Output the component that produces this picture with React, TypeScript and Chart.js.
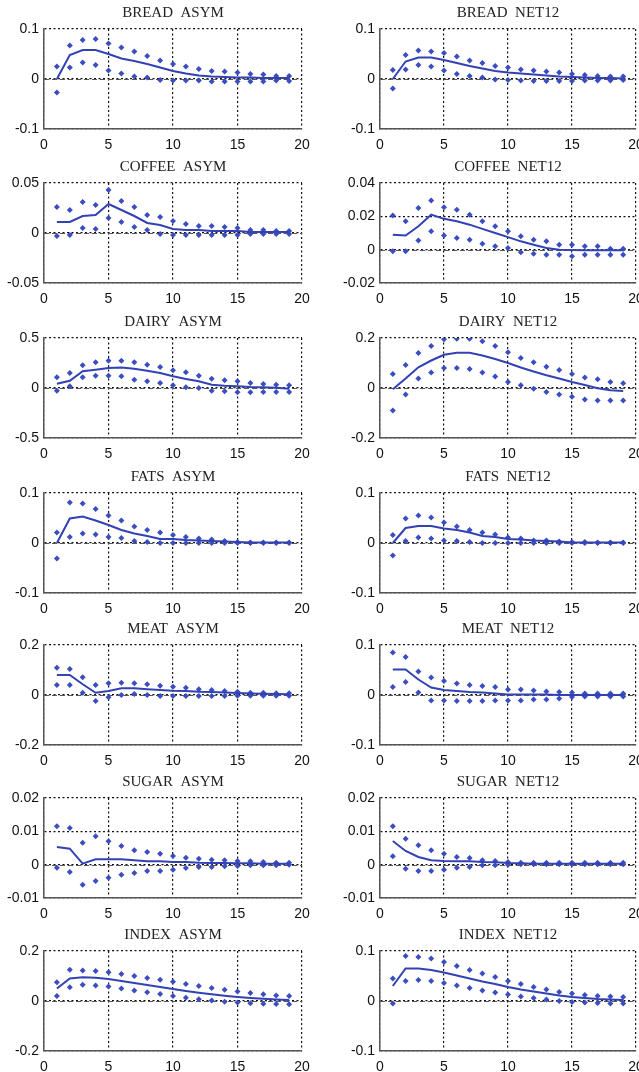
import React, { useEffect, useRef } from "react";
import { Chart, registerables } from "chart.js";

Chart.register(...registerables);

// ---------- DATA ----------
const periods = [1, 2, 3, 4, 5, 6, 7, 8, 9, 10, 11, 12, 13, 14, 15, 16, 17, 18, 19];
const xTickValues = [0, 5, 10, 15, 20];

const breadAsymUpper = [0.025, 0.067, 0.078, 0.08, 0.071, 0.063, 0.055, 0.046, 0.037, 0.03, 0.025, 0.02, 0.016, 0.015, 0.013, 0.01, 0.009, 0.006, 0.006];
const breadAsymMid = [0, 0.048, 0.058, 0.058, 0.05, 0.041, 0.036, 0.03, 0.023, 0.016, 0.011, 0.007, 0.005, 0.004, 0.003, 0.003, 0.002, 0.002, 0.002];
const breadAsymLower = [-0.027, 0.023, 0.033, 0.028, 0.017, 0.011, 0.005, 0.003, -0.002, -0.003, -0.003, -0.003, -0.005, -0.005, -0.005, -0.005, -0.005, -0.003, -0.004];
const breadAsymTicks = [-0.1, 0, 0.1];

const breadNetUpper = [0.018, 0.048, 0.057, 0.055, 0.052, 0.045, 0.037, 0.032, 0.026, 0.023, 0.019, 0.017, 0.015, 0.013, 0.01, 0.008, 0.006, 0.005, 0.005];
const breadNetMid = [0, 0.035, 0.043, 0.043, 0.038, 0.032, 0.026, 0.021, 0.016, 0.013, 0.011, 0.009, 0.007, 0.005, 0.004, 0.003, 0.002, 0.002, 0.001];
const breadNetLower = [-0.019, 0.019, 0.028, 0.025, 0.017, 0.01, 0.006, 0.003, -0.001, -0.002, -0.003, -0.004, -0.004, -0.004, -0.004, -0.003, -0.003, -0.003, -0.002];
const breadNetTicks = [-0.1, 0, 0.1];

const coffeeAsymUpper = [0.026, 0.023, 0.031, 0.028, 0.043, 0.032, 0.026, 0.018, 0.016, 0.012, 0.009, 0.007, 0.007, 0.006, 0.005, 0.003, 0.003, 0.002, 0.002];
const coffeeAsymMid = [0.011, 0.011, 0.017, 0.018, 0.029, 0.023, 0.017, 0.01, 0.008, 0.004, 0.003, 0.003, 0.002, 0.002, 0.002, 0.001, 0.001, 0.001, 0.001];
const coffeeAsymLower = [-0.003, -0.002, 0.005, 0.004, 0.015, 0.011, 0.006, 0.003, -0.001, -0.002, -0.002, -0.002, -0.002, -0.002, -0.002, -0.001, -0.001, -0.001, -0.001];
const coffeeAsymTicks = [-0.05, 0, 0.05];

const coffeeNetUpper = [0.0205, 0.017, 0.025, 0.0295, 0.0255, 0.024, 0.021, 0.017, 0.014, 0.011, 0.008, 0.006, 0.005, 0.003, 0.003, 0.002, 0.002, 0.0006, 0.0006];
const coffeeNetMid = [0.009, 0.0085, 0.014, 0.021, 0.0185, 0.017, 0.015, 0.0125, 0.01, 0.0075, 0.005, 0.003, 0.001, 0, -0.0002, -0.0003, -0.0003, -0.0003, -0.0003];
const coffeeNetLower = [-0.001, -0.001, 0.0055, 0.011, 0.0085, 0.007, 0.006, 0.0035, 0.002, 0.001, -0.0015, -0.0025, -0.003, -0.003, -0.004, -0.003, -0.003, -0.003, -0.003];
const coffeeNetTicks = [-0.02, 0, 0.02, 0.04];

const dairyAsymUpper = [0.107, 0.15, 0.227, 0.257, 0.273, 0.273, 0.257, 0.233, 0.21, 0.177, 0.157, 0.123, 0.093, 0.077, 0.067, 0.05, 0.04, 0.033, 0.027];
const dairyAsymMid = [0.043, 0.073, 0.167, 0.183, 0.2, 0.205, 0.193, 0.173, 0.15, 0.117, 0.09, 0.067, 0.033, 0.023, 0.017, 0.01, 0.007, 0.003, -0.007];
const dairyAsymLower = [-0.027, 0.017, 0.107, 0.123, 0.123, 0.117, 0.083, 0.067, 0.05, 0.027, 0.007, 0, -0.027, -0.033, -0.043, -0.043, -0.04, -0.04, -0.04];
const dairyAsymTicks = [-0.5, 0, 0.5];

const dairyNetUpper = [0.056, 0.092, 0.14, 0.168, 0.195, 0.197, 0.197, 0.187, 0.168, 0.143, 0.12, 0.103, 0.085, 0.072, 0.056, 0.042, 0.035, 0.024, 0.019];
const dairyNetMid = [-0.005, 0.038, 0.083, 0.11, 0.133, 0.141, 0.141, 0.13, 0.116, 0.1, 0.082, 0.066, 0.051, 0.038, 0.024, 0.012, -0.001, -0.009, -0.012];
const dairyNetLower = [-0.09, -0.026, 0.038, 0.062, 0.08, 0.08, 0.076, 0.062, 0.046, 0.024, 0.011, -0.003, -0.016, -0.026, -0.035, -0.046, -0.05, -0.05, -0.05];
const dairyNetTicks = [-0.2, 0, 0.2];

const fatsAsymUpper = [0.021, 0.081, 0.079, 0.068, 0.055, 0.045, 0.033, 0.026, 0.021, 0.016, 0.012, 0.009, 0.007, 0.004, 0.002, 0.001, 0.001, 0.001, 0.001];
const fatsAsymMid = [0, 0.049, 0.053, 0.045, 0.036, 0.026, 0.019, 0.014, 0.008, 0.008, 0.006, 0.005, 0.004, 0.003, 0.002, 0.001, 0.001, 0.001, 0.001];
const fatsAsymLower = [-0.031, 0.012, 0.019, 0.017, 0.012, 0.01, 0.004, 0.002, 0, 0, 0, 0, 0, 0, 0, 0, 0, 0, 0];
const fatsAsymTicks = [-0.1, 0, 0.1];

const fatsNetUpper = [0.016, 0.049, 0.055, 0.051, 0.041, 0.033, 0.026, 0.021, 0.017, 0.011, 0.009, 0.005, 0.005, 0.003, 0.002, 0.002, 0.001, 0.001, 0.001];
const fatsNetMid = [0, 0.03, 0.034, 0.034, 0.029, 0.026, 0.021, 0.014, 0.012, 0.008, 0.007, 0.005, 0.004, 0.003, 0.001, 0.001, 0.001, 0.001, 0.001];
const fatsNetLower = [-0.025, 0.004, 0.011, 0.009, 0.005, 0.004, 0.002, 0, 0, 0, 0, 0, 0, 0, 0, 0, 0, 0, 0];
const fatsNetTicks = [-0.1, 0, 0.1];

const meatAsymUpper = [0.109, 0.104, 0.071, 0.04, 0.047, 0.049, 0.047, 0.043, 0.037, 0.033, 0.029, 0.023, 0.02, 0.016, 0.013, 0.009, 0.009, 0.007, 0.007];
const meatAsymMid = [0.08, 0.08, 0.043, 0.009, 0.016, 0.027, 0.027, 0.023, 0.02, 0.017, 0.016, 0.013, 0.012, 0.01, 0.008, 0.006, 0.005, 0.004, 0.003];
const meatAsymLower = [0.04, 0.04, 0.009, -0.024, -0.009, 0, 0.004, 0, -0.004, -0.004, -0.004, -0.004, -0.004, -0.004, -0.003, -0.003, -0.003, -0.003, -0.003];
const meatAsymTicks = [-0.2, 0, 0.2];

const meatNetUpper = [0.085, 0.076, 0.047, 0.035, 0.028, 0.023, 0.02, 0.018, 0.016, 0.011, 0.011, 0.009, 0.007, 0.006, 0.005, 0.003, 0.003, 0.003, 0.003];
const meatNetMid = [0.051, 0.051, 0.031, 0.015, 0.01, 0.008, 0.006, 0.005, 0.003, 0.001, 0.001, 0.001, 0.001, 0, 0, 0, 0, 0, 0];
const meatNetLower = [0.016, 0.026, 0.005, -0.011, -0.011, -0.012, -0.012, -0.012, -0.011, -0.011, -0.011, -0.009, -0.009, -0.007, -0.004, -0.003, -0.003, -0.003, -0.003];
const meatNetTicks = [-0.1, 0, 0.1];

const sugarAsymUpper = [0.0115, 0.011, 0.0066, 0.0085, 0.007, 0.0056, 0.0043, 0.0038, 0.0033, 0.0026, 0.0021, 0.0018, 0.0015, 0.0013, 0.0011, 0.001, 0.0008, 0.0006, 0.0006];
const sugarAsymMid = [0.0053, 0.0048, 0.0003, 0.0016, 0.0016, 0.0016, 0.0013, 0.001, 0.001, 0.0008, 0.0008, 0.0006, 0.0005, 0.0005, 0.0004, 0.0004, 0.0003, 0.0003, 0.0003];
const sugarAsymLower = [-0.0009, -0.0022, -0.006, -0.0049, -0.0039, -0.003, -0.0025, -0.0019, -0.0019, -0.0015, -0.001, -0.0007, -0.0007, -0.0005, -0.0004, -0.0002, -0.0002, -0.0002, 0];
const sugarAsymTicks = [-0.01, 0, 0.01, 0.02];

const sugarNetUpper = [0.0115, 0.0078, 0.0058, 0.0043, 0.0033, 0.0023, 0.002, 0.0013, 0.0011, 0.0008, 0.0006, 0.0006, 0.0006, 0.0006, 0.0006, 0.0006, 0.0006, 0.0006, 0.0006];
const sugarNetMid = [0.0071, 0.0041, 0.0023, 0.0013, 0.0011, 0.001, 0.001, 0.0008, 0.0007, 0.0005, 0.0004, 0.0003, 0.0003, 0.0003, 0.0003, 0.0003, 0.0003, 0.0003, 0.0003];
const sugarNetLower = [0.0025, -0.0012, -0.0019, -0.0019, -0.0015, -0.0009, -0.0007, -0.0002, -0.0002, 0, 0.0001, 0.0001, 0.0001, 0.0001, 0.0001, 0.0001, 0.0001, 0.0001, 0.0001];
const sugarNetTicks = [-0.01, 0, 0.01, 0.02];

const indexAsymUpper = [0.075, 0.125, 0.122, 0.12, 0.115, 0.108, 0.1, 0.092, 0.085, 0.077, 0.068, 0.06, 0.052, 0.045, 0.038, 0.032, 0.027, 0.022, 0.02];
const indexAsymMid = [0.05, 0.09, 0.095, 0.093, 0.088, 0.08, 0.072, 0.064, 0.056, 0.048, 0.04, 0.033, 0.027, 0.021, 0.016, 0.012, 0.009, 0.006, 0.004];
const indexAsymLower = [0.02, 0.055, 0.065, 0.062, 0.058, 0.05, 0.042, 0.035, 0.028, 0.02, 0.013, 0.007, 0.002, -0.003, -0.006, -0.009, -0.011, -0.012, -0.013];
const indexAsymTicks = [-0.2, 0, 0.2];

const indexNetUpper = [0.045, 0.09, 0.088, 0.085, 0.078, 0.07, 0.062, 0.055, 0.048, 0.04, 0.034, 0.028, 0.023, 0.018, 0.015, 0.012, 0.01, 0.009, 0.008];
const indexNetMid = [0.03, 0.065, 0.065, 0.062, 0.057, 0.051, 0.045, 0.039, 0.034, 0.028, 0.023, 0.019, 0.015, 0.011, 0.008, 0.006, 0.004, 0.003, 0.002];
const indexNetLower = [-0.005, 0.04, 0.042, 0.04, 0.036, 0.031, 0.026, 0.021, 0.017, 0.013, 0.009, 0.006, 0.003, 0, -0.002, -0.003, -0.004, -0.005, -0.005];
const indexNetTicks = [-0.1, 0, 0.1];

// ---------- PANELS ----------
type PanelDef = {
  title: string;
  upper: number[];
  mid: number[];
  lower: number[];
  ticks: number[];
  row: number;
  col: number;
};

const panels: PanelDef[] = [
  { title: "BREAD  ASYM", upper: breadAsymUpper, mid: breadAsymMid, lower: breadAsymLower, ticks: breadAsymTicks, row: 0, col: 0 },
  { title: "BREAD  NET12", upper: breadNetUpper, mid: breadNetMid, lower: breadNetLower, ticks: breadNetTicks, row: 0, col: 1 },
  { title: "COFFEE  ASYM", upper: coffeeAsymUpper, mid: coffeeAsymMid, lower: coffeeAsymLower, ticks: coffeeAsymTicks, row: 1, col: 0 },
  { title: "COFFEE  NET12", upper: coffeeNetUpper, mid: coffeeNetMid, lower: coffeeNetLower, ticks: coffeeNetTicks, row: 1, col: 1 },
  { title: "DAIRY  ASYM", upper: dairyAsymUpper, mid: dairyAsymMid, lower: dairyAsymLower, ticks: dairyAsymTicks, row: 2, col: 0 },
  { title: "DAIRY  NET12", upper: dairyNetUpper, mid: dairyNetMid, lower: dairyNetLower, ticks: dairyNetTicks, row: 2, col: 1 },
  { title: "FATS  ASYM", upper: fatsAsymUpper, mid: fatsAsymMid, lower: fatsAsymLower, ticks: fatsAsymTicks, row: 3, col: 0 },
  { title: "FATS  NET12", upper: fatsNetUpper, mid: fatsNetMid, lower: fatsNetLower, ticks: fatsNetTicks, row: 3, col: 1 },
  { title: "MEAT  ASYM", upper: meatAsymUpper, mid: meatAsymMid, lower: meatAsymLower, ticks: meatAsymTicks, row: 4, col: 0 },
  { title: "MEAT  NET12", upper: meatNetUpper, mid: meatNetMid, lower: meatNetLower, ticks: meatNetTicks, row: 4, col: 1 },
  { title: "SUGAR  ASYM", upper: sugarAsymUpper, mid: sugarAsymMid, lower: sugarAsymLower, ticks: sugarAsymTicks, row: 5, col: 0 },
  { title: "SUGAR  NET12", upper: sugarNetUpper, mid: sugarNetMid, lower: sugarNetLower, ticks: sugarNetTicks, row: 5, col: 1 },
  { title: "INDEX  ASYM", upper: indexAsymUpper, mid: indexAsymMid, lower: indexAsymLower, ticks: indexAsymTicks, row: 6, col: 0 },
  { title: "INDEX  NET12", upper: indexNetUpper, mid: indexNetMid, lower: indexNetLower, ticks: indexNetTicks, row: 6, col: 1 },
];

// layout (pixels)
const ROW_BOX_TOPS = [29, 183, 338, 493, 645, 798, 951];
const TOP_SPACE = 29;
const CANVAS_H = 154;
const COLS = [
  { left: 0, width: 320, yAxisW: 44, padRight: 18 },
  { left: 320, width: 319, yAxisW: 60, padRight: 3 },
];

const LINE_COLOR = "rgb(50, 66, 180)";
const DOT_COLOR = "rgb(58, 78, 192)";

const fmt = (v: number) => String(+Number(v).toFixed(4));

const zeroLinePlugin = {
  id: "zeroLine",
  beforeDatasetsDraw(chart: any) {
    const { ctx, chartArea, scales } = chart;
    const y = Math.round(scales.y.getPixelForValue(0)) + 0.5;
    ctx.save();
    ctx.strokeStyle = "#555";
    ctx.lineWidth = 1;
    ctx.setLineDash([5, 3]);
    ctx.beginPath();
    ctx.moveTo(chartArea.left, y);
    ctx.lineTo(chartArea.right, y);
    ctx.stroke();
    ctx.restore();
  },
};

function Panel({ def }: { def: PanelDef }) {
  const ref = useRef<HTMLCanvasElement | null>(null);
  const col = COLS[def.col];
  const top = ROW_BOX_TOPS[def.row] - TOP_SPACE;

  useEffect(() => {
    if (!ref.current) return;
    const yTicks = def.ticks;
    const pts = (arr: number[]) => periods.map((p, i) => ({ x: p, y: arr[i] }));
    const dotStyle = {
      showLine: false,
      pointStyle: "rectRot",
      pointRadius: 3,
      pointBackgroundColor: DOT_COLOR,
      pointBorderColor: DOT_COLOR,
      pointBorderWidth: 0,
    };
    const chart = new Chart(ref.current, {
      type: "line",
      data: {
        datasets: [
          {
            data: pts(def.mid),
            borderColor: LINE_COLOR,
            borderWidth: 2,
            pointRadius: 0,
            tension: 0,
            fill: false,
          },
          { data: pts(def.upper), ...dotStyle },
          { data: pts(def.lower), ...dotStyle },
        ],
      },
      options: {
        responsive: false,
        animation: false,
        events: [],
        layout: {
          autoPadding: false,
          padding: { top: 0, left: 0, right: col.padRight, bottom: 0 },
        },
        plugins: {
          legend: { display: false },
          tooltip: { enabled: false },
          title: {
            display: true,
            fullSize: false,
            text: def.title,
            color: "#222",
            font: { family: "'Liberation Serif', 'DejaVu Serif', serif", size: 15, weight: "normal" },
            padding: { top: 4, bottom: 7 },
          },
        },
        scales: {
          x: {
            type: "linear",
            min: 0,
            max: 20,
            afterBuildTicks: (scale: any) => {
              scale.ticks = xTickValues.map((v) => ({ value: v }));
            },
            afterFit: (scale: any) => {
              scale.height = CANVAS_H - TOP_SPACE - 100;
              scale.paddingLeft = 0;
              scale.paddingRight = 0;
            },
            grid: { color: "#111", lineWidth: 1.2, drawTicks: false },
            border: { display: true, color: "#555", width: 1.5, dash: [2, 2.5] },
            ticks: {
              color: "#111",
              font: { family: "'Liberation Sans', Arial, sans-serif", size: 14 },
              padding: 8,
              maxRotation: 0,
              autoSkip: false,
              callback: (v: any) => fmt(v),
            },
          },
          y: {
            type: "linear",
            min: yTicks[0],
            max: yTicks[yTicks.length - 1],
            afterBuildTicks: (scale: any) => {
              scale.ticks = yTicks.map((v) => ({ value: v }));
            },
            afterFit: (scale: any) => {
              scale.width = col.yAxisW;
              scale.paddingTop = 0;
              scale.paddingBottom = 0;
            },
            grid: { color: "#111", lineWidth: 1.2, drawTicks: false },
            border: { display: true, color: "#555", width: 1.5, dash: [2, 2.5] },
            ticks: {
              color: "#111",
              font: { family: "'Liberation Sans', Arial, sans-serif", size: 14 },
              padding: 5,
              autoSkip: false,
              callback: (v: any) => fmt(v),
            },
          },
        },
      },
      plugins: [zeroLinePlugin],
    } as any);
    return () => chart.destroy();
  }, [def]);

  return (
    <canvas
      ref={ref}
      width={col.width}
      height={CANVAS_H}
      style={{ position: "absolute", left: col.left, top, width: col.width, height: CANVAS_H }}
    />
  );
}

export default function App() {
  return (
    <div
      style={{
        position: "absolute",
        left: 0,
        top: 0,
        width: 639,
        height: 1072,
        overflow: "hidden",
        background: "#fff",
      }}
    >
      {panels.map((p) => (
        <Panel key={p.title} def={p} />
      ))}
    </div>
  );
}
